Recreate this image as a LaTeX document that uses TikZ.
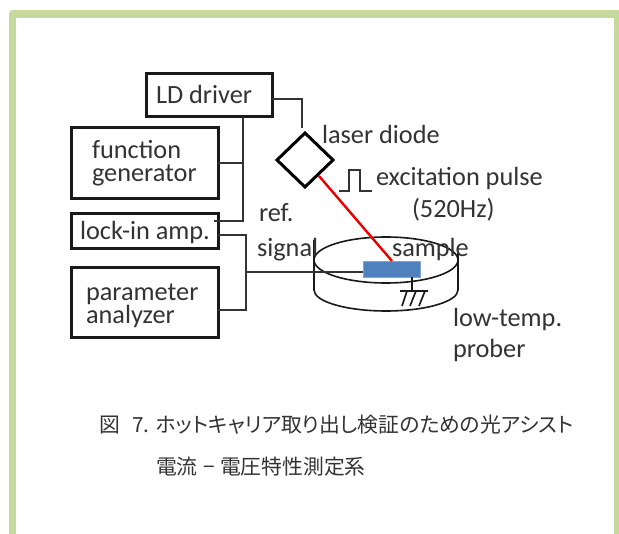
\documentclass[tikz,border=0pt]{standalone}
\usepackage{fontspec}
\usetikzlibrary{shapes.geometric}
\setmainfont{Carlito}
\newfontfamily\cjkfont[RawFeature=+palt]{Noto Sans CJK JP}
\definecolor{framecol}{HTML}{C6D89C}
\definecolor{ink}{HTML}{333333}
\definecolor{wire}{HTML}{333333}
\definecolor{samp}{HTML}{4F81BD}
\begin{document}
\begin{tikzpicture}[x=1pt,y=-1pt,
  lab/.style={anchor=base west,inner sep=0pt,outer sep=0pt,text=ink,font=\fontsize{26.3}{26}\selectfont},
  captext/.style={anchor=base west,inner sep=0pt,outer sep=0pt,text=ink,font=\cjkfont\fontsize{20.8}{21}\selectfont},
  instr/.style={draw=black!90,line width=3pt,inner sep=0pt,outer sep=0pt,anchor=north west},
  wireline/.style={draw=wire,line width=1.5pt},
  thinline/.style={draw=black!90,line width=1.6pt}]
\useasboundingbox (0,0) rectangle (619,534);
\fill[white] (0,0) rectangle (619,534);
% frame
\draw[framecol,line width=7.5pt,line join=round] (12.5,540) -- (12.5,14) -- (617.5,14) -- (617.5,540);
% instruments
\node[instr,minimum width=126pt,minimum height=43pt] (ld) at (146,74) {};
\node[instr,minimum width=147pt,minimum height=71pt] (fg) at (71,128) {};
\node[instr,minimum width=147pt,minimum height=35pt] (lock) at (71,214) {};
\node[instr,minimum width=147pt,minimum height=70pt] (pa) at (71,268) {};
\node[diamond,draw=black,line width=3pt,minimum width=56pt,minimum height=54pt,inner sep=0pt,outer sep=0pt,shape aspect=1.04] (laser) at (305,160) {};
% wires
\coordinate (busa) at (243,221);
\coordinate (busb) at (246,272);
\coordinate (ldtop) at (302,128);
\draw[wireline] (ld.south -| busa) -- (busa) -- (214,221);
\draw[wireline] (fg.east |- 0,163) -- (243,163);
\draw[wireline] (ld.east |- 0,99) -| (ldtop);
\draw[wireline] (lock.east |- 0,235) -| (246,310) -- (pa.east |- 0,310);
% prober
\coordinate (pc) at (386,260);
\draw[thinline] (pc) ellipse [x radius=72, y radius=23];
\draw[thinline] (314,240) -- (314,290) arc[start angle=180,end angle=0,x radius=72,y radius=21] -- (458,253);
% sample
\node[draw=samp!70!white,fill=samp,line width=0.8pt,minimum width=57pt,minimum height=16pt,inner sep=0pt,outer sep=0pt,anchor=north west] (samplebox) at (363,261) {};
\draw[wireline] (busb) -- (samplebox.west |- busb);
% ground
\coordinate (gnd) at (412,291);
\draw[thinline] (samplebox.south -| gnd) -- (gnd);
\draw[thinline] (400,291) -- (428,291);
\draw[thinline] (407,291) -- (402,306) (416,291) -- (410,306) (425,291) -- (419,306);
% beam
\coordinate (beamend) at (392,261);
\draw[red!90!black,line width=2.4pt] (319,176) -- (beamend);
% pulse
\draw[draw=wire,line width=1.5pt] (339,191) -- (349,191) -- (349,170) -- (360,170) -- (360,191) -- (372,191);
% labels
\node[lab] (t1) at (156,104) {LD driver};
\node[lab] (t2) at (92,159) {function};
\node[lab] (t3) at (92,182) {generator};
\node[lab] (t4) at (80,240) {lock-in amp.};
\node[lab] (t5) at (86,301) {parameter};
\node[lab] (t6) at (86,324) {analyzer};
\node[lab] (t7) at (259,222) {ref.};
\node[lab] (t8) at (257,257) {signal};
\node[lab] (t9) at (322,144) {laser diode};
\node[lab] (t10) at (376,186) {excitation pulse};
\node[lab] (t11) at (412,218) {(520Hz)};
\node[lab] (t12) at (392,257) {sample};
\node[lab] (t13) at (453,327) {low-temp.};
\node[lab] (t14) at (453,358) {prober};
% caption
\node[captext] (c1) at (99,433) {図};
\node[captext] (c2) at (132,433) {7.};
\node[captext] (c3) at (156,433) {ホットキャリア取り出し検証のための光アシスト};
\node[captext] (c4) at (156,475) {電流};
\node[captext] (c5) at (203,475) {−};
\node[captext] (c6) at (220,475) {電圧特性測定系};
\end{tikzpicture}
\end{document}
